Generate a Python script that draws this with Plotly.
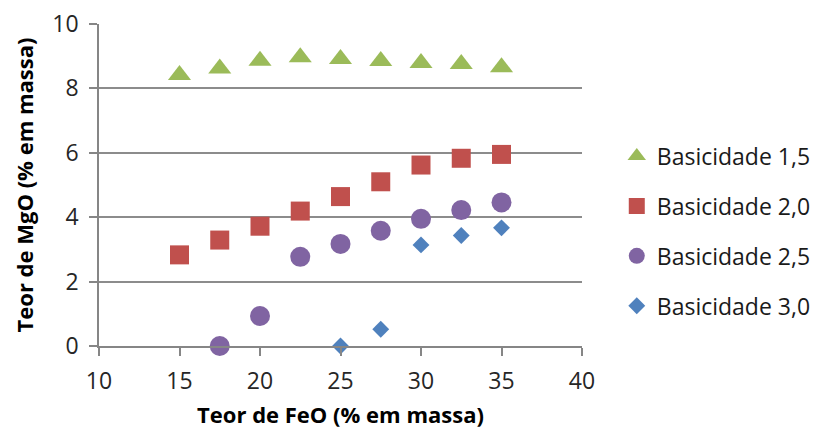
import plotly.graph_objects as go

# Teor de FeO (% em massa)
feo = [15, 17.5, 20, 22.5, 25, 27.5, 30, 32.5, 35]

# Teor de MgO (% em massa) para cada basicidade
mgo_b15 = [8.42, 8.62, 8.86, 8.97, 8.91, 8.85, 8.79, 8.76, 8.66]
feo_b20 = [15, 17.5, 20, 22.5, 25, 27.5, 30, 32.5, 35]
mgo_b20 = [2.83, 3.29, 3.72, 4.19, 4.64, 5.10, 5.62, 5.83, 5.95]
feo_b25 = [17.5, 20, 22.5, 25, 27.5, 30, 32.5, 35]
mgo_b25 = [0.0, 0.93, 2.77, 3.17, 3.58, 3.95, 4.22, 4.46]
feo_b30 = [25, 27.5, 30, 32.5, 35]
mgo_b30 = [0.0, 0.52, 3.14, 3.43, 3.67]

series = [
    ("Basicidade 1,5", feo, mgo_b15, "triangle-up", "#9BBB59", 20),
    ("Basicidade 2,0", feo_b20, mgo_b20, "square", "#C0504D", 19),
    ("Basicidade 2,5", feo_b25, mgo_b25, "circle", "#8064A2", 20),
    ("Basicidade 3,0", feo_b30, mgo_b30, "diamond", "#4F81BD", 13),
]

FONT = "Open Sans, sans-serif"

fig = go.Figure()
for i, (name, xs, ys, sym, col, sz) in enumerate(series):
    fig.add_trace(go.Scatter(
        x=xs, y=ys, mode="markers", name=name, legendgroup=f"g{i}",
        marker=dict(symbol=sym, color=col, size=sz, line=dict(width=0)),
        cliponaxis=False,
    ))

fig.update_layout(
    width=817, height=431,
    margin=dict(l=99, r=235, t=24, b=85, autoexpand=False),
    paper_bgcolor="white", plot_bgcolor="white",
    font=dict(family=FONT, size=23, color="#262626"),
    showlegend=True,
    legend=dict(
        x=1.072, y=0.357, xanchor="left", yanchor="middle",
        font=dict(size=23, color="#1a1a1a"),
        traceorder="grouped", tracegroupgap=17,
        itemsizing="trace", itemwidth=30,
    ),
    xaxis=dict(
        range=[10, 40], tickvals=[10, 15, 20, 25, 30, 35, 40],
        showgrid=False, zeroline=False,
        showline=True, linecolor="#868686", linewidth=1.5,
        ticks="outside", ticklen=8, tickcolor="#868686", tickwidth=1.5,
        ticklabelstandoff=6,
        title=dict(text="<b>Teor de FeO (% em massa)</b>", font=dict(size=22, color="#000000"), standoff=12),
    ),
    yaxis=dict(
        range=[0, 10], tickvals=[0, 2, 4, 6, 8, 10],
        showgrid=True, gridcolor="#8c8c8c", gridwidth=1.5,
        zeroline=False,
        showline=True, linecolor="#868686", linewidth=1.5,
        ticks="outside", ticklen=8, tickcolor="#868686", tickwidth=1.5,
        ticklabelstandoff=6,
        title=dict(text="<b>Teor de MgO (% em massa)</b>", font=dict(size=22, color="#000000"), standoff=13),
    ),
)

fig.write_html("out.html")
